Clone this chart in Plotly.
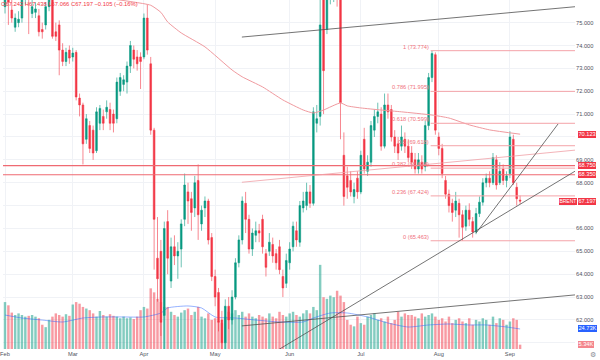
import pandas as pd
import plotly.graph_objects as go

# ---------------- data ----------------
dates = pd.bdate_range("2025-02-03", "2025-09-04")
dates = dates[dates != pd.Timestamp("2025-04-18")]   # Good Friday, no session

opens = [
    75.7, 76.2, 75.55, 74.8, 75.0, 75.2, 76.1, 76.8, 75.4, 75.45,
    75.3, 74.7, 74.9, 75.7, 76.5, 74.6, 74.9, 73.8, 73.3, 73.8,
    73.5, 73.7, 71.7, 71.4, 69.9, 70.5, 70.3, 69.4, 70.6, 70.9,
    71.1, 71.2, 71.0, 70.8, 72.0, 72.3, 72.4, 73.1, 73.8, 73.5,
    73.5, 73.5, 75.2, 73.2, 70.3, 64.7, 65.0, 62.2, 66.3, 63.7,
    65.2, 64.8, 65.1, 66.4, 67.6, 67.3, 66.9, 68.1, 66.2, 66.9,
    67.2, 65.6, 63.9, 63.2, 62.0, 61.0, 62.6, 62.0, 63.0, 64.5,
    65.5, 67.1, 66.4, 65.1, 65.7, 65.9, 66.4, 64.9, 65.0, 65.3,
    64.9, 65.2, 63.9, 63.6, 64.5, 65.2, 65.9, 65.4, 66.9, 67.0,
    67.6, 67.1, 70.6, 70.9, 76.6, 74.7, 76.6, 77.2, 78.8, 77.3,
    69.2, 68.3, 68.1, 67.4, 68.2, 67.6, 69.9, 68.5, 68.9, 70.3,
    70.9, 71.0, 69.6, 71.4, 71.2, 70.0, 69.7, 69.6, 69.9, 69.6,
    69.3, 69.0, 68.6, 68.9, 68.7, 70.5, 72.6, 73.6, 70.0, 69.5,
    68.1, 67.5, 67.1, 66.8, 67.1, 66.6, 66.1, 66.8, 66.3, 65.85,
    66.65, 67.15, 68.0, 68.2, 68.0, 69.0, 68.0, 68.6, 68.1, 68.4,
    69.9, 67.8, 67.242,
]
highs = [
    76.5, 76.6, 76.0, 75.4, 75.5, 76.3, 77.0, 77.0, 76.0, 75.9,
    75.6, 75.0, 75.9, 76.6, 76.8, 75.0, 75.1, 74.1, 73.9, 74.0,
    73.9, 73.8, 71.9, 71.5, 71.0, 70.7, 70.5, 71.3, 71.4, 71.2,
    71.6, 71.5, 71.2, 72.6, 72.8, 72.7, 73.3, 74.2, 74.0, 73.8,
    73.7, 75.4, 75.8, 73.5, 70.4, 66.5, 65.5, 66.3, 66.8, 65.6,
    65.7, 65.4, 66.4, 68.4, 68.0, 67.6, 68.3, 68.8, 67.0, 67.4,
    67.3, 65.8, 64.2, 63.4, 62.4, 62.9, 63.0, 63.3, 64.7, 65.7,
    67.4, 67.6, 66.6, 66.0, 66.3, 66.2, 66.6, 65.1, 65.8, 65.6,
    65.1, 65.5, 64.2, 64.9, 65.4, 66.3, 66.3, 67.2, 67.6, 68.0,
    67.9, 71.3, 71.4, 76.5, 77.0, 77.5, 78.0, 80.0, 79.5, 78.0,
    70.2, 68.7, 68.5, 68.0, 68.5, 69.4, 70.4, 69.2, 70.7, 71.2,
    71.5, 71.3, 71.9, 71.9, 71.4, 70.3, 70.0, 70.5, 70.2, 69.9,
    69.6, 69.3, 69.3, 69.2, 70.7, 72.8, 73.774, 73.7, 70.2, 69.7,
    68.3, 67.7, 67.3, 67.6, 67.3, 66.8, 67.0, 67.1, 66.5, 66.9,
    67.4, 68.2, 68.4, 68.5, 69.3, 69.2, 68.9, 68.8, 68.5, 70.25,
    70.1, 68.0, 67.438,
]
lows = [
    75.4, 74.9, 75.0, 74.6, 74.8, 75.0, 75.8, 74.5, 75.2, 75.2,
    74.4, 74.3, 74.7, 75.5, 74.3, 74.2, 72.7, 73.1, 73.1, 73.2,
    73.3, 71.6, 70.9, 68.8, 69.7, 69.3, 69.0, 69.3, 70.3, 70.3,
    70.8, 70.3, 70.2, 70.6, 71.8, 72.0, 71.9, 72.8, 73.0, 72.9,
    72.1, 73.4, 73.6, 70.1, 64.2, 62.8, 61.3, 60.5, 64.0, 63.4,
    64.4, 63.8, 64.3, 66.1, 66.2, 65.9, 66.5, 65.5, 65.9, 66.5,
    65.3, 63.7, 62.6, 61.5, 60.2, 60.5, 61.6, 61.8, 62.9, 64.3,
    65.3, 65.8, 64.9, 64.8, 65.4, 65.4, 64.9, 63.9, 64.8, 64.5,
    64.2, 64.0, 63.0, 63.4, 64.2, 65.0, 65.2, 65.2, 66.7, 66.8,
    66.9, 67.0, 70.2, 70.5, 71.0, 74.5, 75.8, 75.9, 75.7, 69.9,
    67.0, 67.3, 67.4, 67.1, 67.3, 67.5, 68.4, 68.3, 68.7, 70.0,
    70.6, 69.4, 69.5, 70.8, 69.8, 69.3, 69.0, 69.4, 69.3, 68.9,
    68.6, 68.4, 68.4, 68.4, 68.5, 70.3, 72.4, 70.1, 69.2, 68.2,
    67.3, 66.7, 66.3, 66.5, 65.6, 65.463, 65.9, 66.1, 65.6, 65.75,
    66.5, 67.0, 67.8, 67.8, 67.9, 67.7, 67.9, 67.9, 67.8, 68.2,
    67.9, 67.0, 67.066,
]
closes = [
    76.2, 75.9, 75.2, 75.2, 75.15, 76.1, 76.8, 76.1, 75.7, 75.6,
    74.6, 74.6, 75.7, 76.4, 74.4, 74.4, 73.8, 73.3, 73.7, 73.45,
    73.67, 71.75, 71.4, 69.7, 70.8, 69.5, 69.3, 71.1, 71.25, 70.6,
    71.3, 70.6, 70.6, 72.4, 72.6, 72.5, 73.1, 74.0, 73.4, 73.2,
    73.3, 75.2, 73.8, 70.3, 66.4, 63.8, 61.9, 66.0, 64.7, 65.2,
    64.8, 65.0, 66.2, 67.9, 67.2, 66.7, 68.0, 66.6, 66.8, 67.2,
    65.5, 63.9, 63.0, 61.9, 61.0, 62.6, 62.0, 63.0, 64.5, 65.5,
    67.2, 66.4, 65.1, 65.8, 65.9, 65.8, 65.2, 64.3, 65.4, 64.8,
    64.5, 64.2, 63.4, 64.6, 65.1, 66.1, 65.5, 67.0, 67.2, 67.6,
    67.1, 71.1, 70.8, 74.9, 72.9, 76.8, 77.3, 78.9, 77.3, 71.5,
    67.4, 67.8, 67.6, 67.7, 67.6, 69.2, 68.6, 68.9, 70.5, 70.9,
    71.1, 69.6, 71.4, 71.1, 70.0, 69.6, 69.3, 70.0, 69.6, 69.1,
    68.9, 68.6, 69.0, 68.6, 70.5, 72.6, 73.65, 70.3, 69.5, 68.4,
    67.5, 67.0, 66.7, 67.2, 66.6, 66.05, 66.8, 66.4, 65.85, 66.65,
    67.15, 68.0, 68.2, 68.0, 69.1, 67.9, 68.5, 68.1, 68.3, 70.0,
    68.0, 67.3, 67.197,
]
volumes_k = [
    58, 54, 45, 42, 44, 42, 40, 41, 42, 40,
    38, 30, 27, 36, 40, 44, 42, 40, 43, 41,
    55, 58, 56, 52, 50, 48, 44, 40, 47, 42,
    40, 43, 41, 40, 38, 40, 38, 39, 37, 40,
    48, 52, 50, 75, 70, 62, 58, 52, 52, 46,
    42, 40, 45, 48, 50, 42, 46, 52, 40, 38,
    44, 36, 38, 34, 32, 40, 46, 44, 48, 42,
    46, 40, 44, 40, 38, 42, 40, 38, 44, 40,
    38, 46, 42, 40, 44, 46, 42, 40, 44, 48,
    44, 52, 48, 104, 64, 62, 66, 64, 72, 66,
    58, 36, 30, 28, 40, 32, 30, 40, 42, 44,
    36, 38, 34, 40, 32, 36, 46, 40, 44, 42,
    42, 40, 38, 44, 40, 42, 44, 40, 36, 38,
    34, 40, 32, 36, 38, 34, 32, 38, 30, 36,
    34, 38, 36, 30, 40, 32, 38, 36, 30, 34,
    38, 36, 5.34,
]

# moving average of price (read at sample bars)
ma_idx = [31, 38, 43, 46, 48, 52, 59, 67, 70, 76, 82, 88, 91, 94, 99,
          101, 105, 111, 117, 126, 131, 137, 143, 152]
ma_val = [76.05, 75.90, 75.76, 75.45, 75.03, 74.55, 73.94, 72.93, 72.63,
          72.19, 71.62, 71.18, 71.05, 71.18, 71.49, 71.36, 71.27, 71.18,
          71.10, 70.96, 70.83, 70.53, 70.31, 70.123]

# moving average of volume (K)
vma_idx = [0, 5, 11, 17, 23, 29, 35, 41, 46, 48, 54, 58, 62, 68, 74, 81,
           88, 91, 96, 101, 107, 113, 119, 125, 131, 137, 142, 148, 152]
vma_val = [42, 38.3, 35.8, 33.4, 38.3, 39.6, 39.6, 39.6, 44.5, 50.7, 53.2,
           50.7, 39.6, 38.3, 35.8, 33.4, 33.4, 38.3, 44.5, 44.5, 39.6, 32.1,
           27.2, 29.7, 30.9, 29.7, 29.7, 27.2, 24.73]

# horizontal levels
h_levels = [68.750, 68.350]

# fibonacci retracement anchors
fib_hi_idx, fib_hi = 126, 73.774
fib_lo = 65.463
fib_ratios = [1, 0.786, 0.618, 0.5, 0.382, 0.236, 0]

# trend lines: (x0, y0, x1, y1, colour)
trend_lines = [
    (69.9, 74.37, 168.5, 75.70, "#505050"),
    (69.9, 61.74, 168.5, 63.10, "#505050"),
    (69.9, 68.02, 168.5, 69.43, "#f0a0a6"),
    (75.0, 60.19, 168.5, 68.53, "#505050"),
    (139.0, 65.80, 163.2, 70.57, "#505050"),
]

# price scale ticks (labels hidden where a value box covers them)
price_ticks = list(range(61, 76))
hidden_ticks = [61, 67, 70]

legend_text = "O67.242 H67.438 L67.066 C67.197 \u22120.105 (\u22120.16%)"

# ---------------- figure ----------------
idx = list(range(len(dates)))
month_first = [i for i in idx if i == 0 or dates[i].month != dates[i - 1].month]
month_text = [dates[i].strftime("%b") for i in month_first]

RED = "#f23645"
GREEN = "#089981"
FONT = "Liberation Sans"

vol_colors = ["rgba(8,153,129,0.5)" if c >= o else "rgba(242,54,69,0.5)"
              for o, c in zip(opens, closes)]

fig = go.Figure()
fig.add_trace(go.Bar(x=idx, y=volumes_k, marker_color=vol_colors,
                     marker_line_width=0, width=0.72, yaxis="y",
                     hoverinfo="skip"))
fig.add_trace(go.Scatter(x=vma_idx, y=vma_val, mode="lines", yaxis="y",
                         hoverinfo="skip",
                         line=dict(color="rgba(41,98,255,0.55)", width=0.9,
                                   shape="spline", smoothing=0.6)))
fig.add_trace(go.Candlestick(
    x=idx, open=opens, high=highs, low=lows, close=closes, yaxis="y2",
    increasing=dict(line=dict(color=GREEN, width=0.6), fillcolor=GREEN),
    decreasing=dict(line=dict(color=RED, width=0.6), fillcolor=RED),
    whiskerwidth=0, hoverinfo="skip"))
fig.add_trace(go.Scatter(x=ma_idx, y=ma_val, mode="lines", yaxis="y2",
                         hoverinfo="skip",
                         line=dict(color="#f09a9f", width=1,
                                   shape="spline", smoothing=0.5)))

shapes = []
for lv in h_levels:
    shapes.append(dict(type="line", xref="paper", x0=0, x1=1, yref="y2",
                       y0=lv, y1=lv, line=dict(color="#ef6a72", width=1.1),
                       layer="above"))
annotations = []
for r in fib_ratios:
    val = fib_lo + r * (fib_hi - fib_lo)
    shapes.append(dict(type="line", xref="x", x0=fib_hi_idx - 0.4, x1=175,
                       yref="y2", y0=val, y1=val,
                       line=dict(color="#f4a3a8", width=1), layer="above"))
    annotations.append(dict(xref="x", x=fib_hi_idx - 0.4, xanchor="right",
                            xshift=-2, yref="y2", y=val, yanchor="bottom",
                            yshift=1, text=f"{r:g} ({val:.3f})",
                            showarrow=False, borderwidth=0, borderpad=0,
                            font=dict(size=5.7, color="#f0727c", family=FONT)))
for x0, y0, x1, y1, col in trend_lines:
    shapes.append(dict(type="line", xref="x", x0=x0, x1=x1, yref="y2",
                       y0=y0, y1=y1, line=dict(color=col, width=0.8),
                       layer="above"))


def axis_box(text, yval, bg, yref="y2", size=5.7):
    return dict(xref="paper", x=1, xanchor="left", xshift=3, yref=yref,
                y=yval, yanchor="middle", text=text, showarrow=False,
                bgcolor=bg, borderwidth=0, borderpad=0.4,
                font=dict(size=size, color="white", family=FONT))


annotations += [
    axis_box(f"{ma_val[-1]:.3f}", ma_val[-1], RED),
    axis_box(f"{h_levels[0]:.3f}", h_levels[0], RED),
    axis_box(f"{h_levels[1]:.3f}", h_levels[1], RED),
    axis_box(f"{closes[-1]:.3f}", closes[-1], RED),
    axis_box(f"{vma_val[-1]:.2f}K", vma_val[-1], "#2962ff", yref="y"),
    axis_box(f"{volumes_k[-1]:.2f}K", volumes_k[-1], "#f4868d", yref="y"),
    dict(xref="paper", x=1, xanchor="right", xshift=2, yref="y2",
         y=closes[-1], yanchor="middle", text="BRENT", showarrow=False,
         bgcolor=RED, borderwidth=0, borderpad=0.4,
         font=dict(size=5.0, color="white", family=FONT)),
    dict(xref="paper", x=0, xanchor="left", xshift=-2, yref="paper", y=1,
         yanchor="top", yshift=-1, text=legend_text, showarrow=False,
         borderwidth=0, borderpad=0,
         font=dict(size=5.8, color=RED, family=FONT)),
    dict(xref="paper", x=1, xanchor="center", xshift=18, yref="paper", y=0,
         yanchor="middle", yshift=-6, text="\u2699", showarrow=False,
         font=dict(size=7, color="#8a8d96", family="DejaVu Sans")),
]

fig.update_layout(
    width=600, height=360,
    margin=dict(l=0, r=25, t=0, b=11),
    paper_bgcolor="white", plot_bgcolor="white",
    showlegend=False, bargap=0.25, boxgap=0.3, hovermode=False,
    font=dict(family=FONT, size=5.7, color="#50535e"),
    xaxis=dict(range=[-0.59, 168.2], tickmode="array", tickvals=month_first,
               ticktext=month_text, showgrid=True, gridcolor="#f0f2f6",
               gridwidth=1, zeroline=False, showline=False, ticks="",
               ticklabeloverflow="allow",
               tickfont=dict(size=5.7, color="#50535e"),
               rangeslider=dict(visible=False)),
    yaxis=dict(range=[0, 431.4], visible=False, showgrid=False),
    yaxis2=dict(range=[60.73, 75.99], overlaying="y", side="right",
                tickmode="array", tickvals=price_ticks,
                ticktext=["" if t in hidden_ticks else f"{t:.3f}"
                          for t in price_ticks],
                showgrid=True, gridcolor="#f0f2f6", zeroline=False,
                showline=False, ticks="",
                tickfont=dict(size=5.7, color="#50535e")),
    shapes=shapes, annotations=annotations,
)

# the page's default body margin would shift the 600x360 figure; remove it
fig.write_html("out.html",
               config={"displayModeBar": False, "staticPlot": True},
               post_script="document.body.style.margin='0';"
                           "document.body.style.overflow='hidden';")
